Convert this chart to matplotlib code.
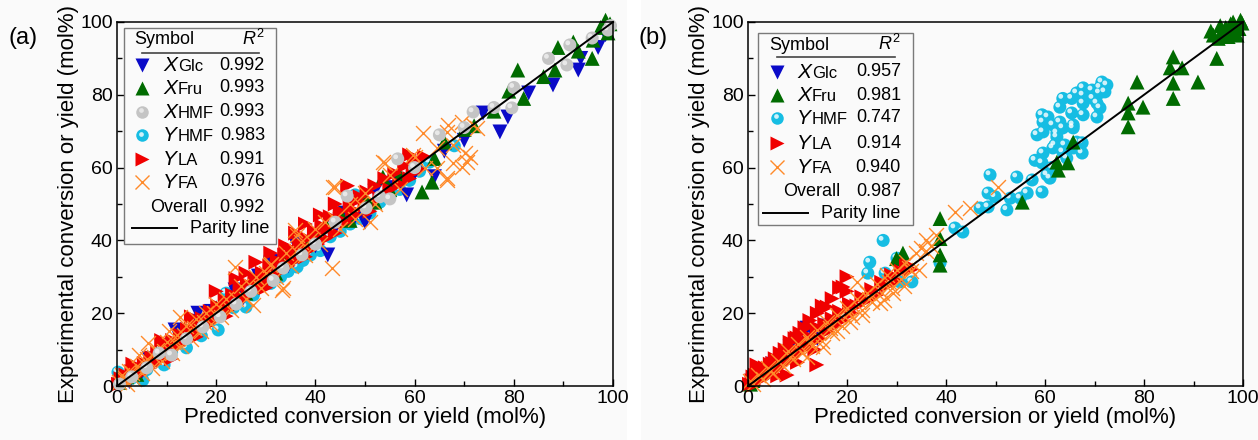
import numpy as np
import matplotlib
matplotlib.use("Agg")
import matplotlib.pyplot as plt
from matplotlib.lines import Line2D
from matplotlib.patches import Rectangle
from matplotlib.ticker import MultipleLocator
from matplotlib.transforms import offset_copy

plt.rcParams['font.family'] = ['Liberation Sans', 'DejaVu Sans']
plt.rcParams['mathtext.fontset'] = 'custom'
plt.rcParams['mathtext.rm'] = 'Liberation Sans'
plt.rcParams['mathtext.it'] = 'Liberation Sans:italic'

# ---- panel (a) data : (predicted, experimental) ----
a_xglc = [(0.5,0.3),(1.5,1.8),(2.5,1.2),(3.5,4.2),(5,3.8),(6.5,7.5),(8,6.8),(10,11.2),(11.5,10.2),
          (11.7,15.4),(13,14.5),(14.5,13.5),(16,17.8),(16.3,20),(17.5,16.2),(19,20.5),(20.5,19.5),
          (22,21),(23.8,26.4),(24,25.5),(25.5,24.3),(27,26),(28.5,30.2),(30,29),(31.5,33.5),(33,34.2),
          (34.5,33),(36,39),(37.5,37),(40,38.5),(42.5,36),(44,43.5),(46,47.5),(48,46.5),(50,45),
          (52,53.5),(55,54.5),(57,56),(58.4,52.5),(60,58.5),(64,57.5),(66,64.5),(70,67.5),(73.8,75),
          (77.2,69.8),(78.8,73.9),(83,80.5),(87.9,82.7),(93,86.8),(93.5,90),(97,93),(98.5,96.5)]
a_xfru = [(0.5,1),(2,2.5),(4,3.2),(6,6.8),(8,9),(10,9.5),(12,13.5),(14,15),(16,16.5),(18,19.5),
          (20,21.5),(22,23),(24,26),(26,25.5),(28,29.5),(30,30.5),(32,31),(34,35.5),(36,38),(38,39),
          (40,41.5),(42,44.5),(45,47.5),(47,45.5),(50,52),(52,50.5),(53.6,57.4),(55,54),(57,58),
          (60,61),(61.5,53.3),(63.5,56),(64,62.5),(66,67),(70,70.5),(72,71.5),(76,75.5),(79,81),
          (80.8,86.8),(82,79),(86,85),(88.3,86.8),(88.9,93),(92,94.5),(93,92),(95.8,90),(96,95),
          (97.5,98.5),(99,97),(99.4,99.5),(98.5,100.5)]
a_xhmf = [(0.5,0.5),(3,2.5),(6,5),(8.5,9),(11,8.5),(14,13),(17.3,16.2),(20.8,19),(24,22.5),(27,26),
          (31.5,29),(33.5,32.4),(37.3,36),(40,39),(44,45),(46.4,52.2),(50.2,48.9),(53,52),(55,51.4),
          (56.6,62.4),(60,60),(65,69),(70,71),(71.8,75.3),(76,76.5),(79.6,76.4),(80,82),(87,90),
          (90.7,88.2),(91.3,93.7),(95.8,95.6),(99,97.8),(99.5,99)]
a_yhmf = [(0.2,3.8),(0.5,0.5),(1.5,1.5),(3,2.2),(5.2,1.6),(6,4.5),(8,7.5),(9.5,5.8),(11,9.2),
          (12.5,11.8),(14,10.5),(15.5,14.5),(17,13.8),(18.5,17.8),(20.4,15.4),(21,19.5),(22,25.5),
          (23.5,21.5),(26,21.7),(27.5,25),(29,27.5),(30.8,35.4),(31,28.2),(33,30),(34.5,31.5),
          (36.3,32.7),(37.5,34.5),(39,36),(41,37.2),(43,41),(45,42.5),(47,44.5),(48,52.5),(49,46),
          (51,47.5),(53,50.5),(55,52),(57,54),(59,56.5),(61,59),(63,61.5),(68,66)]
a_yla = [(0.3,0.5),(0.8,2),(1.2,0.8),(1.8,3),(2.5,1.5),(3,4),(3.5,2.5),(4.2,5),(5,3.5),(5.5,6.2),
         (6.2,4.8),(7,7.8),(7.5,6),(8.2,9),(9,7.5),(9.8,10.5),(10.5,9),(11.2,12.5),(12,11),(12.8,14),
         (13.5,12),(14.2,15.5),(15,13.5),(15.8,17),(16.5,15.5),(17.2,18.5),(18,16.5),(18.8,20.5),
         (19.5,18),(20,26),(20.3,22),(21,19.5),(21.8,23.5),(22.5,21),(23.3,25),(24,22.5),(24.8,27),
         (25.5,24),(26.3,28),(27,25.5),(27.8,29.5),(28,34),(28.5,27),(29.3,31),(30,28.5),(30.8,33),
         (31.5,30),(32.3,34.5),(33,31.5),(33.8,36),(34.5,33),(35.3,37.5),(36,34.5),(36,42),
         (36.8,39),(37.5,36),(38.3,40.5),(39,37.5),(39.8,42.5),(40.5,39),(41.3,44),(42,40.5),
         (43,46.5),(44,42),(44,50),(45,48),(46,45),(46.5,55),(47,50),(48,47),(48.4,51),(49,52),
         (50,49.5),(50.4,53.3),(51,48),(52,55),(53,51.5),(54,57),(55,54),(56,58.5),(57,55.5),
         (58,60.5),(59,57),(59,63.5),(59.7,58.5),(60,62),(61,59.5),(62,63),
         (2,2.8),(4.5,3.8),(6.8,6.2),(8.8,8.2),(10.8,10.8),(13,13),(15.2,15),(17.5,17.2),(19.8,20),
         (22,22.2),(24.2,24.5),(26.5,26.2),(28.8,29),(31,31.3),(33.3,33.5),(35.5,35.8),(37.8,38.3),
         (40.2,40.5),(42.5,43),(45,45.8),(47.5,48.5),(3.2,6),(9,12.5),(15,19),(26,31),(31,36.5),
         (38,44.5),(41,47),(34,38.5),(24,29.5),(11,7.5),(16,13.5),(22,19.2),(30,27),(38,35.5)]
a_yfa = [(0.5,1),(1,3),(2,0.5),(2.5,4),(3.5,2),(4,5.5),(5,3.5),(6,7.5),(6.3,11.8),(7,5),(8,10),
         (9,7),(10,12),(11,9),(12,14),(12.7,19),(13,11),(14,16.5),(15,13),(16,18.5),(17,15),(18,20),
         (19,17),(20,22.5),(21,19),(22,24),(23,21),(23.8,32.7),(25,27.5),(26,24),(27.4,22.3),(28,30),
         (29,27),(30.8,33.2),(31,33.5),(32,30),(33.3,26.4),(33.5,27),(34,36.5),(35,33),(35.9,42.9),
         (36.3,41.5),(37,39.5),(38,36),(40,43),(41,39),(42,45),(43.3,32.4),(43.5,54.7),(44,54.7),
         (45,43),(47,50),(48,46),(50,53),(51,45),(52,50),(53.6,61.5),(54,61.3),(55,58),(57,54),
         (59.7,63.5),(60,63),(61.7,69.5),(62,60),(64.5,65.4),(64.5,60),(66.5,69.8),(66.5,57.1),
         (66.5,56.6),(66.7,71.7),(67.7,61.3),(67.7,66.2),(69.6,60.2),(69.6,72.5),(70.2,64),
         (70.6,61.5),(71.2,63),(71.8,71.7),(72.6,70.9),
         (1.5,2),(3,3.5),(5.5,6),(7.5,8),(9.5,9.5),(11.5,12),(13.5,14),(15.5,16),(17.5,17.5),
         (19.5,20),(24,24),(27,27.5),(30,31),(36,37),(39,40),(44,46),(49,50),(4.5,8.5),(10.5,15)]

# ---- panel (b) data ----
b_xglc = [(2,2),(4,3.5),(5,6),(6,6.5),(8,8),(8.5,10.7),(9,11),(10,9.5),(11.9,15.9),(12,12.5),
          (13,15),(14,13),(14.5,14.6),(16,16.5)]
b_xfru = [(0.5,0.5),(1,1.5),(30,35),(31.3,36.5),(38.8,33.2),(38.8,36),(38.8,40.5),(38.8,46),
          (55.4,50.5),(62.4,61.5),(62.7,59.3),(64.6,61.3),(65.7,67),(76.8,71.2),(76.8,75),(76.8,77.7),
          (78.6,83.5),(79.8,76.6),(85.3,87.4),(85.9,90.4),(85.9,83.2),(85.9,79),(87.7,87.4),
          (90.9,83.5),(93.5,97.5),(94,96.4),(94.7,90),(95,95.5),(95.4,99),(96,97),(96.5,98.5),
          (97,96),(97.5,99.5),(97.8,97.5),(98,100),(98.8,96.4),(99.2,98.2),(99.5,100.5),(99.8,99.7)]
b_yhmf = [(24.2,31),(24.6,34),(27.3,40),(27.7,31),(30.1,35.1),(30.7,32.4),(30.7,28.6),(33.1,28.6),
          (38.8,33.8),(41.8,43.4),(43.4,42.3),(46.9,48.9),(48.5,49.2),(48.5,53),(48.9,58),(49.9,52),
          (52.3,48.4),(53,51.6),(54.3,57.4),(55,51.6),(56.4,53),(57.4,56.6),(58,62),(58.4,69),
          (59.4,74.5),(59.4,61.3),(59.4,53.3),(59.6,72.5),(59.6,69.8),(59.6,64),(60.4,58),(60.6,73.9),
          (61,57.1),(61.4,60),(61.6,71.7),(61.6,65.4),(62,66.2),(62.4,69.5),(62.4,68.4),(63,76.6),
          (63,72.5),(63.6,79),(63.6,70.9),(63.6,64.3),(64,66.2),(64.4,62.6),(65.4,79),(65.4,75),
          (65.7,71.7),(65.7,70.9),(65.7,65.4),(66.4,80.5),(66.4,67),(67.5,66.8),(67.5,64),(67.7,81.9),
          (67.7,79.9),(67.7,77.7),(67.7,74.5),(69.5,81.3),(69.7,79),(70.5,77.7),(70.5,73.9),(71,80.5),
          (71.1,82),(71.1,76.4),(71.5,83.5),(72.1,80.8),(72.5,82.7)]
b_yla = [(0.3,0.5),(0.8,1.5),(1.2,0.3),(1.5,3),(1.8,5.8),(2,1.5),(2.5,4),(3,2),(3.5,5),(4,3),(4.5,6),
         (5,4),(5.5,7.5),(6,5),(6.5,9),(7,6),(7.5,10),(7.9,3),(8,7),(8.5,12),(9,8),(9.5,13),(9.9,13.2),
         (10,9),(10.5,14.5),(11,10),(11.5,16),(12,11),(12.5,18),(12.9,16.8),(13,12),(13.9,5.8),(14,20),
         (14.5,13),(15,22),(16,15),(16,21.7),(17,24),(17.5,16.5),(18.5,27),(19,18),(19.2,27.2),
         (20,26),(20,30),(21,20),(22,22),(24,23.5),(26,25),(28,27.5),(30,29),(31,31.5),(32,33),
         (32.3,33.2),(33,32),(1,2.5),(2.2,3.2),(3.5,3.8),(5,6.2),(6.5,6.8),(8,9),(9.5,10),(11,12.5),
         (12.5,13.5),(14,15.8),(15.5,17),(17,18.5),(18.5,20.5),(20.5,22.5),(23,24.5),(25,26.5),
         (27,28.5),(29,30.5),(13.5,10),(10,6.5),(6,2.8)]
b_yfa = [(0.5,1.5),(1,0.5),(2,3),(3,2),(4,5),(5,3.5),(6,7),(7,5.5),(8,9.5),(9,7.5),(10,11.5),(11,9),
         (11.9,8),(12,13.5),(13,11),(14,15.5),(15,12.5),(15.2,10.7),(16,17.5),(17,14.5),(18,19.5),
         (19,16.5),(20,21.5),(20.6,17.6),(21,19),(22,24),(22,28.6),(23,21),(24,25.5),(25,23),(26,28),
         (26.7,22.8),(27,25.5),(28,30.5),(29,27),(29.3,25.5),(30,32),(31,29.5),(32,34),(33,31.5),
         (34,36.5),(35,38),(36,40),(37,38.5),(38,41.5),(41.8,47.8),(44.8,48.9),(50.5,54.7),
         (4.5,4),(8.5,8),(12.5,12),(16.5,16),(20.5,20),(24.5,24),(28.5,28.5),(32.5,32.5),(36,37),
         (18,15),(23,19.5),(27.5,23.5),(31.5,27.5),(34.5,32)]

r2_a = ['0.992', '0.993', '0.993', '0.983', '0.991', '0.976']
r2_a_overall = '0.992'
r2_b = ['0.957', '0.981', '0.747', '0.914', '0.940']
r2_b_overall = '0.987'

W, H = 1258, 440
BG = '#fafafa'
BLUE, GREEN, GRAY, CYAN, RED, ORANGE = '#0a0ac8', '#006b00', '#c4c4c4', '#16bde3', '#f00000', '#ff8a2a'
FS_LEG = 13

fig = plt.figure(figsize=(W / 100, H / 100), dpi=100, facecolor=BG)
fig.add_artist(Rectangle((627 / W, 0), 14 / W, 1, transform=fig.transFigure,
                         facecolor='white', edgecolor='none', zorder=0))


def fp(x, y):
    return x / W, 1 - y / H


def xy(pairs):
    a = np.array(pairs, dtype=float)
    return a[:, 0], a[:, 1]


def tri(ax, pairs, marker, color):
    x, y = xy(pairs)
    ax.scatter(x, y, s=115, marker=marker, c=color, edgecolors='none', clip_on=False)


def cross(ax, pairs):
    x, y = xy(pairs)
    ax.scatter(x, y, s=115, marker='x', c=ORANGE, linewidths=1.0, clip_on=False)


def sphere(ax, pairs, color, hl):
    x, y = xy(pairs)
    ax.scatter(x, y, s=88, c=color, edgecolors='none', clip_on=False)
    tr = offset_copy(ax.transData, fig=fig, x=-1.5, y=1.5, units='points')
    ax.scatter(x, y, s=12, c=hl, edgecolors='none', alpha=0.8, transform=tr, clip_on=False)


def style(ax):
    ax.set_xlim(0, 100)
    ax.set_ylim(0, 100)
    ax.set_facecolor(BG)
    ax.xaxis.set_major_locator(MultipleLocator(20))
    ax.yaxis.set_major_locator(MultipleLocator(20))
    ax.xaxis.set_minor_locator(MultipleLocator(10))
    ax.yaxis.set_minor_locator(MultipleLocator(10))
    ax.tick_params(which='both', direction='in', top=False, right=False, width=1, labelsize=14, pad=3)
    ax.tick_params(which='major', length=5)
    ax.tick_params(which='minor', length=3.5)
    for s in ax.spines.values():
        s.set_linewidth(1.1)
    ax.set_xlabel('Predicted conversion or yield (mol%)', fontsize=16, labelpad=0)
    ax.set_ylabel('Experimental conversion or yield (mol%)', fontsize=16, labelpad=1)
    ax.plot([0, 100], [0, 100], color='black', lw=1.4, zorder=10, clip_on=False)


def legend(box, rows, overall, cols):
    # box and cols in figure pixels
    x0, y0, x1, y1 = box
    mx, lx, vx, ox, hy, uy, py, pl = cols
    fig.add_artist(Rectangle(fp(x0, y1), (x1 - x0) / W, (y1 - y0) / H, transform=fig.transFigure,
                             facecolor=BG, edgecolor='#7a7a7a', lw=1.0, zorder=20))
    fig.text(*fp(mx - 8, hy), 'Symbol', fontsize=FS_LEG, va='center', ha='left', zorder=21)
    fig.text(*fp(vx - 12, hy - 1), '$R^2$', fontsize=FS_LEG, va='center', ha='center', zorder=21)
    fig.add_artist(Line2D([fp(mx, 0)[0], fp(vx - 6, 0)[0]], [fp(0, uy)[1]] * 2,
                          transform=fig.transFigure, color='#444444', lw=1.2, zorder=21))
    for ry, kind, color, letter, sub, val in rows:
        x, y = fp(mx, ry)
        if kind == 'sphere':
            fig.add_artist(Line2D([x], [y], marker='o', ms=9, color=color, mec='none',
                                  transform=fig.transFigure, zorder=22))
            fig.add_artist(Line2D([x - 1.5 / W], [y + 1.5 / H], marker='o', ms=3.4,
                                  color='white' if color == CYAN else '#eeeeee', alpha=0.8,
                                  mec='none', transform=fig.transFigure, zorder=23))
        elif kind == 'x':
            fig.add_artist(Line2D([x], [y], marker='x', ms=10, color=color, mew=1.0,
                                  transform=fig.transFigure, zorder=22))
        else:
            fig.add_artist(Line2D([x], [y], marker=kind, ms=10, color=color, mec='none',
                                  transform=fig.transFigure, zorder=22))
        fig.text(*fp(lx, ry + 6), letter, fontsize=15, style='italic', va='baseline',
                 ha='left', zorder=21)
        fig.text(*fp(lx + 15, ry + 6), sub, fontsize=12, va='baseline', ha='left', zorder=21)
        fig.text(*fp(vx, ry), val, fontsize=FS_LEG, va='center', ha='right', zorder=21)
    oy = overall[0]
    fig.text(*fp(ox, oy), 'Overall', fontsize=FS_LEG, va='center', ha='right', zorder=21)
    fig.text(*fp(vx, oy), overall[1], fontsize=FS_LEG, va='center', ha='right', zorder=21)
    fig.add_artist(Line2D([fp(pl[0], 0)[0], fp(pl[1], 0)[0]], [fp(0, py)[1]] * 2,
                          transform=fig.transFigure, color='black', lw=1.4, zorder=21))
    fig.text(*fp(pl[1] + 13, py), 'Parity line', fontsize=FS_LEG, va='center', ha='left', zorder=21)


# ---- panel (a) ----
axa = fig.add_axes([117 / W, 1 - 386 / H, 496 / W, 364 / H])
sphere(axa, a_yhmf, CYAN, 'white')
tri(axa, a_xglc, 'v', BLUE)
tri(axa, a_xfru, '^', GREEN)
tri(axa, a_yla, '>', RED)
cross(axa, a_yfa)
sphere(axa, a_xhmf, GRAY, '#f2f2f2')
style(axa)

legend((124, 28, 276, 244),
       [(65, 'v', BLUE, 'X', 'Glc', r2_a[0]),
        (88, '^', GREEN, 'X', 'Fru', r2_a[1]),
        (112, 'sphere', GRAY, 'X', 'HMF', r2_a[2]),
        (135, 'sphere', CYAN, 'Y', 'HMF', r2_a[3]),
        (159, '>', RED, 'Y', 'LA', r2_a[4]),
        (182, 'x', ORANGE, 'Y', 'FA', r2_a[5])],
       (207, r2_a_overall),
       (142, 163, 265, 207, 40, 53, 228, (132, 177)))

# ---- panel (b) ----
axb = fig.add_axes([748 / W, 1 - 386 / H, 495 / W, 364 / H])
tri(axb, b_xglc, 'v', BLUE)
sphere(axb, b_yhmf, CYAN, 'white')
tri(axb, b_xfru, '^', GREEN)
tri(axb, b_yla, '>', RED)
cross(axb, b_yfa)
style(axb)

legend((758, 33, 913, 225),
       [(72, 'v', BLUE, 'X', 'Glc', r2_b[0]),
        (95, '^', GREEN, 'X', 'Fru', r2_b[1]),
        (118, 'sphere', CYAN, 'Y', 'HMF', r2_b[2]),
        (143, '>', RED, 'Y', 'LA', r2_b[3]),
        (167, 'x', ORANGE, 'Y', 'FA', r2_b[4])],
       (192, r2_b_overall),
       (777, 797, 901, 840, 45, 57, 213, (763, 808)))

fig.text(*fp(8, 38), '(a)', fontsize=17, va='center', ha='left')
fig.text(*fp(639, 38), '(b)', fontsize=17, va='center', ha='left')

fig.savefig('out.png', dpi=100, facecolor=BG)
